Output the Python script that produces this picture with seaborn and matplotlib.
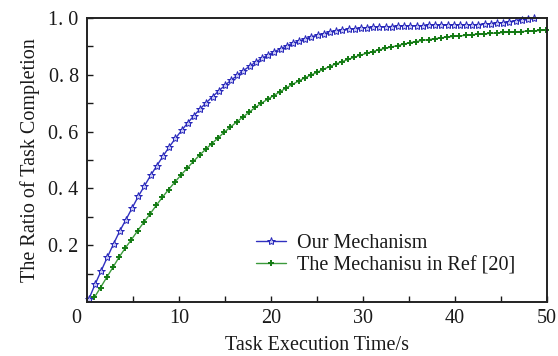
import numpy as np
import pandas as pd
import matplotlib
matplotlib.use("Agg")
import matplotlib.pyplot as plt
import matplotlib.transforms as mtransforms
import seaborn as sns

# ---- data ----
ours_x_start, ours_step, ours_n = 0.2, 0.6722, 73
ours_y = [0.010, 0.062, 0.110, 0.158, 0.205, 0.250, 0.290, 0.331, 0.372, 0.409,
          0.446, 0.480, 0.514, 0.546, 0.576, 0.604, 0.631, 0.656, 0.680, 0.702,
          0.723, 0.743, 0.763, 0.781, 0.798, 0.815, 0.830, 0.845, 0.858, 0.870,
          0.881, 0.892, 0.902, 0.911, 0.919, 0.927, 0.934, 0.940, 0.945, 0.950,
          0.954, 0.957, 0.960, 0.962, 0.964, 0.966, 0.967, 0.968, 0.969, 0.970,
          0.971, 0.972, 0.972, 0.973, 0.973, 0.974, 0.974, 0.974, 0.975, 0.975,
          0.975, 0.976, 0.976, 0.977, 0.978, 0.980, 0.982, 0.984, 0.987, 0.990,
          0.993, 0.996, 1.000]
ref_x_start, ref_step, ref_n = 0.8, 0.6726, 74
ref_y = [0.016, 0.051, 0.087, 0.122, 0.158, 0.190, 0.220, 0.251, 0.281, 0.310,
         0.340, 0.369, 0.396, 0.422, 0.447, 0.471, 0.495, 0.517, 0.538, 0.558,
         0.578, 0.598, 0.616, 0.634, 0.651, 0.668, 0.685, 0.700, 0.714, 0.727,
         0.740, 0.754, 0.766, 0.778, 0.789, 0.799, 0.809, 0.819, 0.829, 0.838,
         0.846, 0.854, 0.862, 0.869, 0.876, 0.882, 0.888, 0.893, 0.898, 0.903,
         0.908, 0.913, 0.917, 0.921, 0.924, 0.927, 0.930, 0.933, 0.935, 0.937,
         0.939, 0.941, 0.943, 0.944, 0.946, 0.947, 0.949, 0.950, 0.951, 0.952,
         0.954, 0.955, 0.956, 0.957]
ours_x = [ours_x_start + ours_step * i for i in range(ours_n)]
ref_x = [ref_x_start + ref_step * i for i in range(ref_n)]

series_labels = ["Our Mechanism", "The Mechanisu in Ref [20]"]
x_ticks = [0, 10, 20, 30, 40, 50]
x_tick_labels = ["0", "10", "20", "30", "40", "50"]
y_ticks = [0.2, 0.4, 0.6, 0.8, 1.0]
y_tick_labels = ["0. 2", "0. 4", "0. 6", "0. 8", "1. 0"]
x_label = "Task Execution Time/s"
y_label = "The Ratio of Task Completion"

# ---- style ----
sns.set_style("ticks")
plt.rcParams["font.family"] = ["Liberation Serif", "DejaVu Serif"]
FS = 14.5
TXT = "#1a1a1a"

fig = plt.figure(figsize=(5.58, 3.56), dpi=100)
ax = fig.add_axes([87 / 558, 1 - 302 / 356, 460 / 558, 284 / 356])

df_ours = pd.DataFrame({"x": ours_x, "y": ours_y})
df_ref = pd.DataFrame({"x": ref_x, "y": ref_y})

sns.lineplot(data=df_ours, x="x", y="y", ax=ax, color="#3030c0", lw=1.0,
             marker="*", markersize=6, markerfacecolor="#c8c8f4",
             markeredgecolor="#2424b8", markeredgewidth=0.7,
             label=series_labels[0], clip_on=False)
sns.lineplot(data=df_ref, x="x", y="y", ax=ax, color="#3c9a3c", lw=1.0,
             marker="+", markersize=5, markeredgecolor="#137a13",
             markeredgewidth=1.4, label=series_labels[1], clip_on=False)

ax.set_xlim(0, 50)
ax.set_ylim(0, 1.0)
ax.set_xticks(x_ticks)
ax.set_xticklabels(x_tick_labels)
ax.set_xticks([5, 15, 25, 35, 45], minor=True)
ax.set_yticks(y_ticks)
ax.set_yticklabels(y_tick_labels)
ax.set_yticks([0.1, 0.3, 0.5, 0.7, 0.9], minor=True)
ax.tick_params(axis="both", which="both", direction="in", length=4, width=1.0,
               labelsize=FS, colors=TXT)
ax.tick_params(axis="x", which="major", pad=5)
ax.tick_params(axis="y", which="major", pad=6)

for s in ax.spines.values():
    s.set_visible(True)
    s.set_linewidth(1.4)
    s.set_color("#222222")

# shift the "0" label slightly left, like the reference
lab0 = ax.get_xticklabels()[0]
lab0.set_transform(lab0.get_transform() +
                   mtransforms.ScaledTranslation(-8 / 72, 0, fig.dpi_scale_trans))

ax.set_xlabel(x_label, fontsize=FS, labelpad=6, color=TXT)
ax.set_ylabel(y_label, fontsize=FS, labelpad=6, color=TXT)

leg = ax.legend(loc="lower left", bbox_to_anchor=(0.367, 0.095), frameon=False,
                fontsize=FS, handlelength=1.5, handletextpad=0.55,
                labelspacing=0.15, borderaxespad=0, borderpad=0)
for t in leg.get_texts():
    t.set_color(TXT)

fig.savefig("out.png", dpi=100)
